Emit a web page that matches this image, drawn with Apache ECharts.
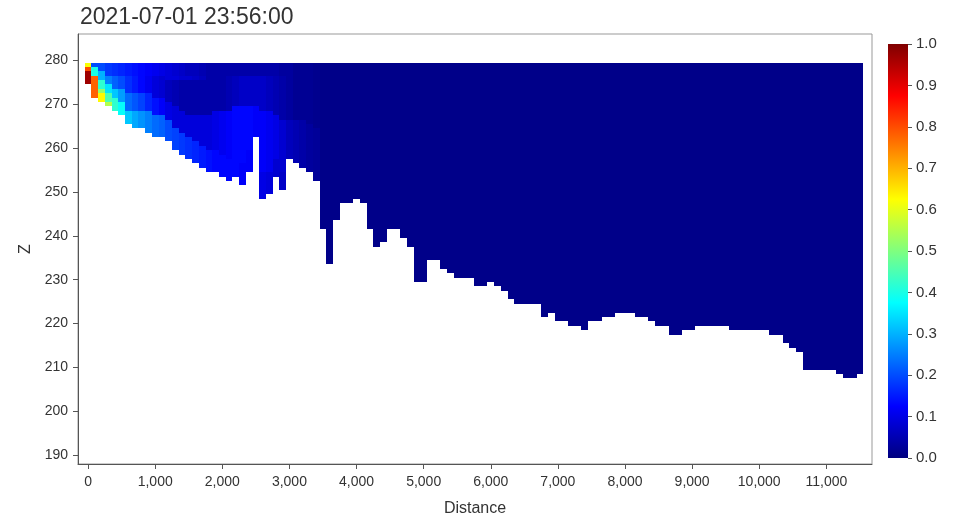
<!DOCTYPE html>
<html><head><meta charset="utf-8">
<script src="https://cdn.jsdelivr.net/npm/echarts@6/dist/echarts.min.js"></script>
<style>html,body{margin:0;padding:0;background:#fff}#c{width:958px;height:522px}</style>
</head><body><div id="c"></div>
<script>
const titleText = '2021-07-01 23:56:00';
const colStep = 100;              // distance between cell columns (m)
const colCount = 116;
const distances = Array.from({length: colCount}, (_, k) => k * colStep);
const surfaceRow = 279;           // top wet row (Z)
// lowest wet row (Z) of each column
const bedRow = [
 275,272,271,270,269,268,266,265,265,264,263,263,262,260,259,258,257,256,255,255,
 254,253,254,252,255,263,249,250,254,251,258,257,256,255,253,242,234,244,248,248,
 249,248,242,238,239,242,242,240,238,230,230,235,235,233,232,231,231,231,229,229,
 230,229,228,226,225,225,225,225,222,223,221,221,220,220,219,221,221,222,222,223,
 223,223,222,222,221,220,220,218,218,219,219,220,220,220,220,220,219,219,219,219,
 219,219,218,218,216,215,214,210,210,210,210,210,209,208,208,209
];
const backgroundValue = 0.01;
// per column, runs from the surface downward: [number of rows, value]
const plume = [
 [[1,.62],[1,.8],[3,.97]],
 [[1,.2],[2,.4],[5,.78]],
 [[2,.2],[2,.3],[2,.42],[1,.52],[2,.63]],
 [[3,.18],[2,.25],[2,.35],[2,.45],[1,.55]],
 [[3,.17],[3,.22],[2,.32],[3,.42]],
 [[3,.16],[3,.2],[3,.28],[3,.38]],
 [[3,.15],[4,.17],[4,.23],[3,.32]],
 [[3,.14],[4,.15],[4,.21],[4,.29]],
 [[3,.13],[4,.13],[4,.19],[4,.27]],
 [[3,.12],[4,.11],[4,.16],[5,.25]],
 [[3,.11],[5,.09],[4,.14],[5,.23]],
 [[3,.1],[5,.08],[4,.12],[5,.22]],
 [[3,.09],[1,.09],[5,.06],[4,.1],[5,.2]],
 [[3,.08],[1,.09],[6,.05],[5,.09],[5,.19]],
 [[3,.07],[1,.08],[7,.04],[5,.09],[5,.18]],
 [[3,.06],[1,.08],[8,.04],[5,.09],[5,.17]],
 [[3,.06],[1,.07],[8,.04],[6,.09],[5,.16]],
 [[3,.05],[1,.06],[8,.04],[7,.09],[5,.15]],
 [[3,.04],[9,.04],[8,.09],[5,.14]],
 [[3,.04],[8,.04],[9,.1],[5,.13]],
 [[3,.04],[8,.04],[10,.11],[5,.13]],
 [[3,.04],[8,.05],[11,.12],[5,.13]],
 [[3,.04],[7,.06],[11,.13],[5,.13]],
 [[3,.04],[7,.07],[13,.13],[5,.12]],
 [[3,.04],[7,.07],[10,.13],[5,.12]],
 [[3,.04],[7,.07],[7,.12]],
 [[3,.04],[8,.07],[14,.12],[6,.1]],
 [[3,.04],[8,.06],[14,.11],[5,.09]],
 [[3,.04],[9,.05],[10,.1],[4,.08]],
 [[3,.03],[10,.04],[12,.08],[4,.07]],
 [[3,.03],[10,.03],[9,.06]],
 [[13,.02],[10,.05]],
 [[13,.02],[11,.04]],
 [[14,.02],[11,.03]],
 [[15,.015],[12,.025]]
];
const xTicks = [0,1000,2000,3000,4000,5000,6000,7000,8000,9000,10000,11000];
const zTicks = [190,200,210,220,230,240,250,260,270,280];
const jet = ['#00007F','#0000FF','#007FFF','#00FFFF','#7FFF7F','#FFFF00','#FF7F00','#FF0000','#7F0000'];

const cells = [];
for (let k = 0; k < colCount; k++) {
  const vals = [];
  (plume[k] || []).forEach(([n, v]) => { for (let i = 0; i < n; i++) vals.push(v); });
  for (let z = surfaceRow, i = 0; z >= bedRow[k]; z--, i++) {
    cells.push([distances[k], z, i < vals.length ? vals[i] : backgroundValue]);
  }
}

const font = 'Liberation Sans, Arial, Helvetica, sans-serif';
const cb = {left: 888, top: 44, width: 20, height: 414};
const chart = echarts.init(document.getElementById('c'), null, {renderer: 'canvas'});
chart.setOption({
  animation: false,
  backgroundColor: '#fff',
  textStyle: {fontFamily: font},
  title: {text: titleText, left: 80, top: 6, padding: 0,
    textStyle: {fontSize: 23, fontWeight: 'normal', color: '#333', fontFamily: font}},
  grid: [
    {left: 78, top: 34, width: 794, height: 432, show: true, borderColor: '#999', borderWidth: 1, backgroundColor: 'transparent'},
    {left: cb.left, top: cb.top, width: cb.width, height: cb.height, show: false}
  ],
  graphic: [{
    type: 'rect', left: cb.left, top: cb.top, silent: true, z: -1,
    shape: {width: cb.width, height: cb.height},
    style: {fill: new echarts.graphic.LinearGradient(0, 1, 0, 0,
      jet.map((c, i) => ({offset: i / (jet.length - 1), color: c})))}
  }],
  xAxis: [
    {type: 'value', gridIndex: 0, min: -150, max: 11680,
      name: 'Distance', nameLocation: 'middle', nameGap: 37,
      nameTextStyle: {fontSize: 16, color: '#333', fontFamily: font},
      axisLine: {show: true, onZero: false, lineStyle: {color: '#555'}},
      axisTick: {show: true, customValues: xTicks, length: 5, lineStyle: {color: '#555'}},
      axisLabel: {customValues: xTicks, fontSize: 14, color: '#333', margin: 11,
        formatter: v => v.toLocaleString('en-US')},
      splitLine: {show: false}},
    {type: 'value', gridIndex: 1, min: 0, max: 1, show: false}
  ],
  yAxis: [
    {type: 'value', gridIndex: 0, min: 188, max: 286,
      name: 'Z', nameLocation: 'middle', nameGap: 38, nameRotate: 90,
      nameTextStyle: {fontSize: 16, color: '#333', fontFamily: font},
      axisLine: {show: true, onZero: false, lineStyle: {color: '#555'}},
      axisTick: {show: true, customValues: zTicks, length: 5, lineStyle: {color: '#555'}},
      axisLabel: {customValues: zTicks, fontSize: 14, color: '#333', margin: 10},
      splitLine: {show: false}},
    {type: 'value', gridIndex: 1, min: 0, max: 1, interval: 0.1, position: 'right',
      axisLine: {show: false, onZero: false},
      axisTick: {show: true, inside: false, length: 4, lineStyle: {color: '#555'}},
      axisLabel: {fontSize: 15, color: '#333', margin: 8, formatter: v => v.toFixed(1)},
      splitLine: {show: false}}
  ],
  visualMap: {
    type: 'continuous', show: false, min: 0, max: 1, seriesIndex: 0, dimension: 2,
    inRange: {color: jet}
  },
  series: [
    {type: 'custom', xAxisIndex: 0, yAxisIndex: 0, data: cells,
      encode: {x: 0, y: 1},
      renderItem: (params, api) => {
        const d = api.value(0), z = api.value(1);
        const a = api.coord([d - colStep / 2, z + 0.5]);
        const b = api.coord([d + colStep / 2, z - 0.5]);
        const x0 = Math.round(a[0]), x1 = Math.round(b[0]);
        const y0 = Math.round(a[1]), y1 = Math.round(b[1]);
        return {type: 'rect',
          shape: {x: x0, y: y0, width: x1 - x0, height: y1 - y0},
          style: {fill: api.visual('color')}};
      }},
    {type: 'scatter', xAxisIndex: 1, yAxisIndex: 1, data: []}
  ]
});
</script></body></html>
